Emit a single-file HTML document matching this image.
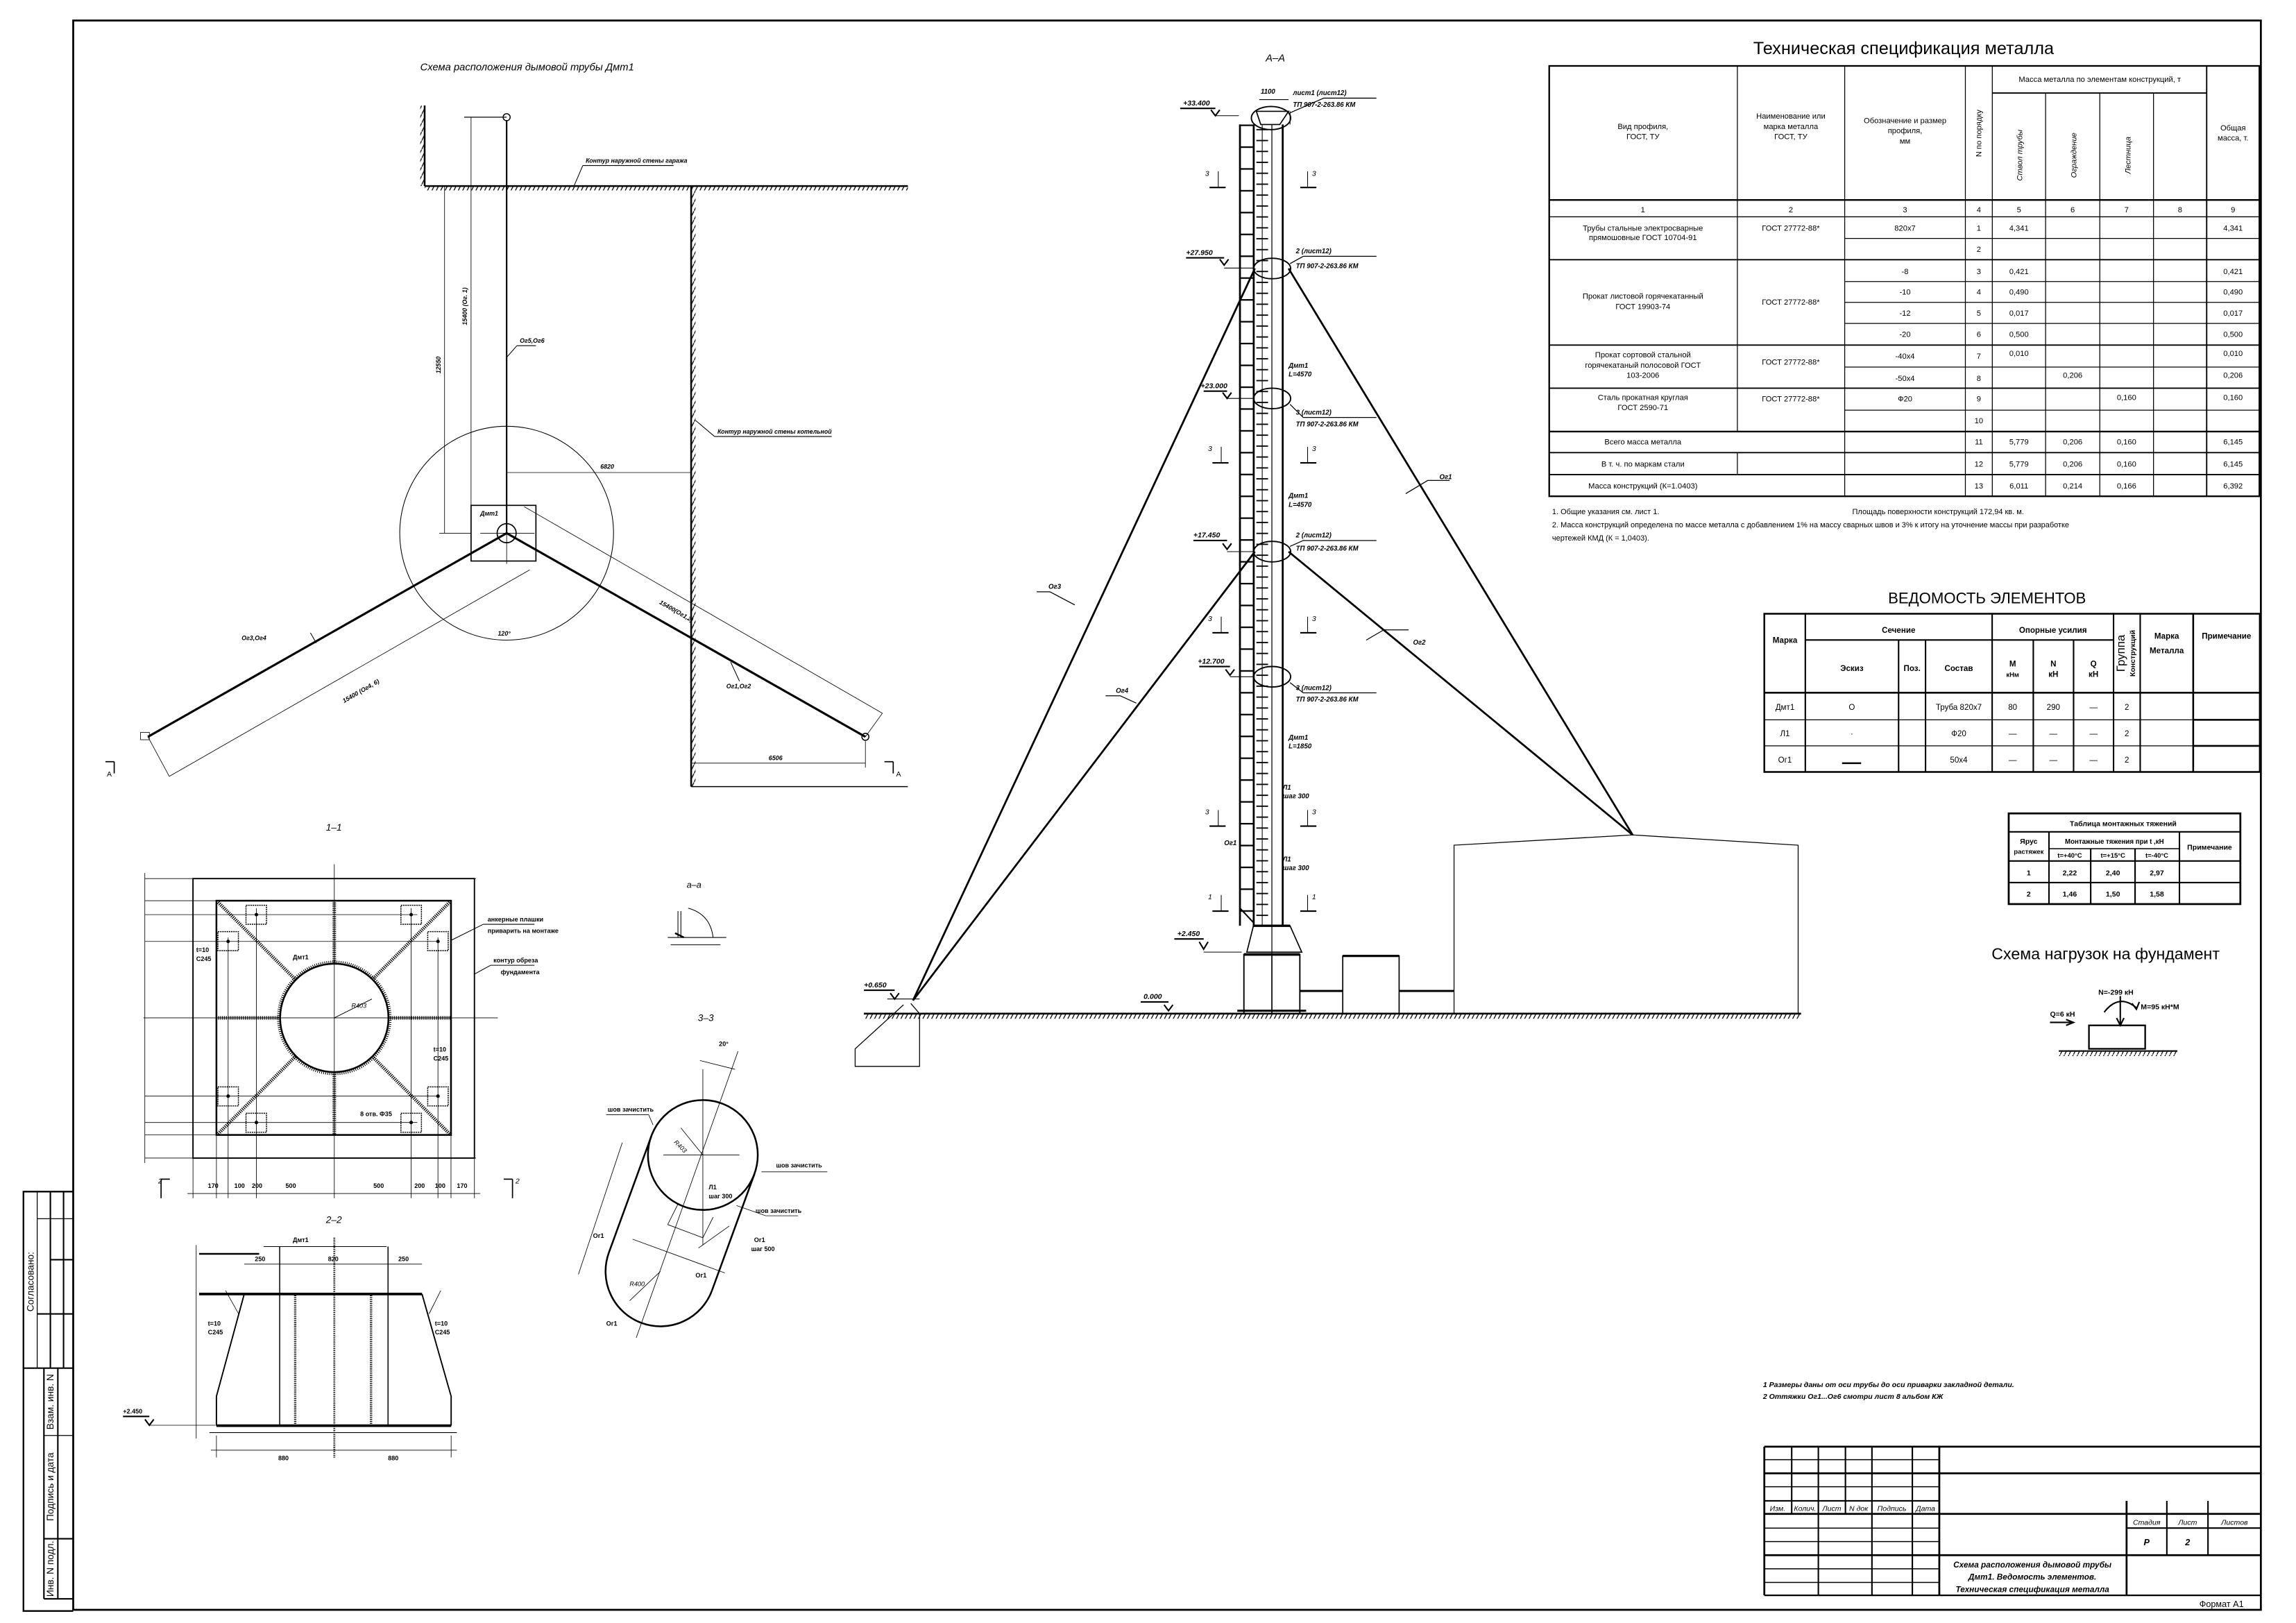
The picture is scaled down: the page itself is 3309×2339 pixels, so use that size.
<!DOCTYPE html>
<html><head><meta charset="utf-8"><style>
html,body{margin:0;padding:0;background:#fff}
svg{display:block}
text{font-family:"Liberation Sans","DejaVu Sans",sans-serif;fill:#000}
.i{font-style:italic}
.b{font-weight:bold}
</style></head><body>
<svg width="3309" height="2339" viewBox="0 0 1568 1108" preserveAspectRatio="none" xmlns="http://www.w3.org/2000/svg">
<defs>
<pattern id="hatch" width="3" height="6" patternUnits="userSpaceOnUse"><line x1="0" y1="6" x2="3" y2="0" stroke="#000" stroke-width="0.6"/></pattern>
<pattern id="rung" x="0" y="85" width="20" height="14.9" patternUnits="userSpaceOnUse"><line x1="0" y1="0.5" x2="20" y2="0.5" stroke="#000" stroke-width="1.1"/></pattern>
<pattern id="tick" x="0" y="88" width="20" height="7.45" patternUnits="userSpaceOnUse"><line x1="0" y1="0.5" x2="20" y2="0.5" stroke="#000" stroke-width="0.9"/></pattern>
</defs>
<rect width="1568" height="1108" fill="#fff"/>

<!-- FRAME -->
<g fill="none" stroke="#000">
<rect x="50" y="14" width="1494" height="1085" stroke-width="1.3"/>
<polyline points="50,813.5 16,813.5 16,1099.8 50,1099.8" stroke-width="1.1"/>
<line x1="16" y1="934" x2="50" y2="934" stroke-width="1"/>
<line x1="25.4" y1="813.5" x2="25.4" y2="934" stroke-width="0.6"/>
<line x1="34.4" y1="813.5" x2="34.4" y2="934" stroke-width="1"/>
<line x1="43.4" y1="813.5" x2="43.4" y2="934" stroke-width="1"/>
<line x1="25.4" y1="832" x2="50" y2="832" stroke-width="0.6"/>
<line x1="34.4" y1="860" x2="50" y2="860" stroke-width="1"/>
<line x1="25.4" y1="897" x2="50" y2="897" stroke-width="1"/>
<line x1="30" y1="934" x2="30" y2="1091.5" stroke-width="1"/>
<line x1="39.5" y1="934" x2="39.5" y2="1091.5" stroke-width="1"/>
<line x1="30" y1="980" x2="50" y2="980" stroke-width="0.6"/>
<line x1="30" y1="1050.5" x2="50" y2="1050.5" stroke-width="1"/>
<line x1="30" y1="1091.5" x2="50" y2="1091.5" stroke-width="1"/>
</g>
<text transform="translate(23,875) rotate(-90)" font-size="6.5" text-anchor="middle">Согласовано:</text>
<text transform="translate(36.5,957) rotate(-90)" font-size="6.5" text-anchor="middle">Взам. инв. N</text>
<text transform="translate(36.5,1015) rotate(-90)" font-size="6.5" text-anchor="middle">Подпись и дата</text>
<text transform="translate(36.5,1071) rotate(-90)" font-size="6.5" text-anchor="middle">Инв. N подл.</text>

<!-- TITLE BLOCK -->
<g fill="none" stroke="#000" stroke-width="1">
<line x1="1204.9" y1="987.6" x2="1544" y2="987.6" stroke-width="1.3"/>
<line x1="1204.9" y1="987.6" x2="1204.9" y2="1089.1" stroke-width="1.3"/>
<line x1="1204.9" y1="1089.1" x2="1544" y2="1089.1" stroke-width="1.1"/>
<line x1="1223.6" y1="987.6" x2="1223.6" y2="1033.5"/>
<line x1="1241.8" y1="987.6" x2="1241.8" y2="1089.1"/>
<line x1="1260.3" y1="987.6" x2="1260.3" y2="1033.5"/>
<line x1="1278.4" y1="987.6" x2="1278.4" y2="1089.1"/>
<line x1="1306" y1="987.6" x2="1306" y2="1089.1"/>
<line x1="1324.4" y1="987.6" x2="1324.4" y2="1089.1" stroke-width="1.3"/>
<line x1="1452.3" y1="1024.6" x2="1452.3" y2="1089.1" stroke-width="1.3"/>
<line x1="1479.8" y1="1024.6" x2="1479.8" y2="1061.7"/>
<line x1="1507.9" y1="1024.6" x2="1507.9" y2="1061.7"/>
<line x1="1204.9" y1="996.5" x2="1324.4" y2="996.5" stroke-width="0.7"/>
<line x1="1204.9" y1="1005.8" x2="1544" y2="1005.8" stroke-width="1.3"/>
<line x1="1204.9" y1="1015" x2="1324.4" y2="1015" stroke-width="0.7"/>
<line x1="1204.9" y1="1024.6" x2="1324.4" y2="1024.6"/>
<line x1="1204.9" y1="1033.5" x2="1544" y2="1033.5" stroke-width="1.3"/>
<line x1="1452.3" y1="1043.2" x2="1544" y2="1043.2"/>
<line x1="1204.9" y1="1043.2" x2="1324.4" y2="1043.2" stroke-width="0.7"/>
<line x1="1204.9" y1="1052.4" x2="1324.4" y2="1052.4" stroke-width="0.7"/>
<line x1="1204.9" y1="1061.7" x2="1544" y2="1061.7" stroke-width="1.3"/>
<line x1="1204.9" y1="1071" x2="1324.4" y2="1071" stroke-width="0.7"/>
<line x1="1204.9" y1="1080.3" x2="1324.4" y2="1080.3" stroke-width="0.7"/>
</g>
<g font-size="5" class="i" text-anchor="middle">
<text x="1214" y="1031.5" class="i">Изм.</text><text x="1232.7" y="1031.5" class="i">Колич.</text><text x="1251" y="1031.5" class="i">Лист</text><text x="1269.3" y="1031.5" class="i">N док</text><text x="1292" y="1031.5" class="i">Подпись</text><text x="1315" y="1031.5" class="i">Дата</text>
<text x="1466" y="1041" class="i">Стадия</text><text x="1494" y="1041" class="i">Лист</text><text x="1526" y="1041" class="i">Листов</text>
<text x="1466" y="1055" class="i b" font-size="6">Р</text><text x="1494" y="1055" class="i b" font-size="6">2</text>
<text x="1388" y="1070" class="i b" font-size="5.6">Схема расположения дымовой трубы</text>
<text x="1388" y="1078.5" class="i b" font-size="5.6">Дмт1. Ведомость элементов.</text>
<text x="1388" y="1087" class="i b" font-size="5.6">Техническая спецификация металла</text>
</g>
<text x="1502" y="1097" font-size="6">Формат А1</text>

<!-- SPEC TABLE -->
<text x="1300" y="37" font-size="12" text-anchor="middle">Техническая спецификация металла</text>
<g fill="none" stroke="#000" stroke-width="0.6">
<rect x="1058" y="45" width="485" height="293.8" stroke-width="1.1"/>
<line x1="1058" y1="136.5" x2="1543" y2="136.5" stroke-width="1.1"/>
<line x1="1058" y1="148" x2="1543" y2="148"/>
<line x1="1360.6" y1="63.5" x2="1507" y2="63.5" stroke-width="0.9"/>
<line x1="1186.5" y1="45" x2="1186.5" y2="294.6"/>
<line x1="1186.5" y1="309" x2="1186.5" y2="324"/>
<line x1="1259.8" y1="45" x2="1259.8" y2="338.8"/>
<line x1="1342.2" y1="45" x2="1342.2" y2="338.8"/>
<line x1="1360.6" y1="45" x2="1360.6" y2="338.8"/>
<line x1="1397" y1="63.5" x2="1397" y2="338.8"/>
<line x1="1434" y1="63.5" x2="1434" y2="338.8"/>
<line x1="1470.7" y1="63.5" x2="1470.7" y2="338.8"/>
<line x1="1507" y1="45" x2="1507" y2="338.8" stroke-width="0.9"/>
<line x1="1259.8" y1="162.8" x2="1543" y2="162.8"/>
<line x1="1058" y1="177.3" x2="1543" y2="177.3" stroke-width="0.9"/>
<line x1="1259.8" y1="192.2" x2="1543" y2="192.2"/>
<line x1="1259.8" y1="206.4" x2="1543" y2="206.4"/>
<line x1="1259.8" y1="220.8" x2="1543" y2="220.8"/>
<line x1="1058" y1="235.6" x2="1543" y2="235.6" stroke-width="0.9"/>
<line x1="1259.8" y1="250.6" x2="1543" y2="250.6"/>
<line x1="1058" y1="265" x2="1543" y2="265" stroke-width="0.9"/>
<line x1="1259.8" y1="280" x2="1543" y2="280"/>
<line x1="1058" y1="294.6" x2="1543" y2="294.6" stroke-width="1.1"/>
<line x1="1058" y1="309" x2="1543" y2="309" stroke-width="0.9"/>
<line x1="1058" y1="324" x2="1543" y2="324" stroke-width="0.9"/>
</g>
<g font-size="5.3" text-anchor="middle">
<text x="1122" y="88">Вид профиля,</text><text x="1122" y="95">ГОСТ, ТУ</text>
<text x="1223" y="81">Наименование или</text><text x="1223" y="88">марка металла</text><text x="1223" y="95">ГОСТ, ТУ</text>
<text x="1301" y="84">Обозначение и размер</text><text x="1301" y="91">профиля,</text><text x="1301" y="98">мм</text>
<text transform="translate(1353,91) rotate(-90)">N по порядку</text>
<text x="1434" y="56">Масса металла по элементам конструкций, т</text>
<text transform="translate(1381,106) rotate(-90)" class="i">Ствол трубы</text>
<text transform="translate(1418,106) rotate(-90)" class="i">Ограждение</text>
<text transform="translate(1455,106) rotate(-90)" class="i">Лестница</text>
<text x="1525" y="89">Общая</text><text x="1525" y="96">масса, т.</text>
<text x="1122" y="145">1</text><text x="1223" y="145">2</text><text x="1301" y="145">3</text><text x="1351.4" y="145">4</text><text x="1378.8" y="145">5</text><text x="1415.5" y="145">6</text><text x="1452.3" y="145">7</text><text x="1488.8" y="145">8</text><text x="1525" y="145">9</text>
<text x="1122" y="157.5">Трубы стальные электросварные</text><text x="1122" y="164">прямошовные  ГОСТ 10704-91</text>
<text x="1223" y="157.5">ГОСТ 27772-88*</text><text x="1301" y="157.5">820x7</text><text x="1351.4" y="157.5">1</text><text x="1378.8" y="157.5">4,341</text><text x="1525" y="157.5">4,341</text>
<text x="1351.4" y="172">2</text>
<text x="1122" y="204">Прокат листовой горячекатанный</text><text x="1122" y="211">ГОСТ 19903-74</text>
<text x="1223" y="208">ГОСТ 27772-88*</text>
<text x="1301" y="187">-8</text><text x="1301" y="201">-10</text><text x="1301" y="215.5">-12</text><text x="1301" y="230">-20</text>
<text x="1351.4" y="187">3</text><text x="1351.4" y="201">4</text><text x="1351.4" y="215.5">5</text><text x="1351.4" y="230">6</text>
<text x="1378.8" y="187">0,421</text><text x="1378.8" y="201">0,490</text><text x="1378.8" y="215.5">0,017</text><text x="1378.8" y="230">0,500</text>
<text x="1525" y="187">0,421</text><text x="1525" y="201">0,490</text><text x="1525" y="215.5">0,017</text><text x="1525" y="230">0,500</text>
<text x="1122" y="244">Прокат сортовой стальной</text><text x="1122" y="251">горячекатаный полосовой  ГОСТ</text><text x="1122" y="258">103-2006</text>
<text x="1223" y="249">ГОСТ 27772-88*</text>
<text x="1301" y="245">-40x4</text><text x="1301" y="260">-50x4</text>
<text x="1351.4" y="245">7</text><text x="1351.4" y="260">8</text>
<text x="1378.8" y="243">0,010</text><text x="1525" y="243">0,010</text>
<text x="1415.5" y="258">0,206</text><text x="1525" y="258">0,206</text>
<text x="1122" y="273">Сталь прокатная круглая</text><text x="1122" y="280">ГОСТ 2590-71</text>
<text x="1223" y="274">ГОСТ 27772-88*</text><text x="1301" y="274">Ф20</text><text x="1351.4" y="274">9</text>
<text x="1452.3" y="273">0,160</text><text x="1525" y="273">0,160</text>
<text x="1351.4" y="289">10</text>
<text x="1122" y="303.5">Всего масса металла</text><text x="1351.4" y="303.5">11</text><text x="1378.8" y="303.5">5,779</text><text x="1415.5" y="303.5">0,206</text><text x="1452.3" y="303.5">0,160</text><text x="1525" y="303.5">6,145</text>
<text x="1122" y="318.5">В т. ч. по маркам стали</text><text x="1351.4" y="318.5">12</text><text x="1378.8" y="318.5">5,779</text><text x="1415.5" y="318.5">0,206</text><text x="1452.3" y="318.5">0,160</text><text x="1525" y="318.5">6,145</text>
<text x="1122" y="333.5">Масса конструкций (К=1.0403)</text><text x="1351.4" y="333.5">13</text><text x="1378.8" y="333.5">6,011</text><text x="1415.5" y="333.5">0,214</text><text x="1452.3" y="333.5">0,166</text><text x="1525" y="333.5">6,392</text>
</g>
<g font-size="5.2">
<text x="1060" y="351">1. Общие указания см. лист 1.</text>
<text x="1265" y="351">Площадь поверхности конструкций 172,94 кв. м.</text>
<text x="1060" y="360">2. Масса конструкций определена по массе металла с добавлением 1% на массу сварных швов и 3% к итогу на уточнение массы при разработке</text>
<text x="1060" y="369">чертежей КМД (К = 1,0403).</text>
</g>

<!-- VEDOMOST -->
<text x="1357" y="412" font-size="10.5" text-anchor="middle">ВЕДОМОСТЬ  ЭЛЕМЕНТОВ</text>
<g fill="none" stroke="#000" stroke-width="1">
<rect x="1204.9" y="419" width="338.4" height="108" stroke-width="1.2"/>
<line x1="1204.9" y1="472.9" x2="1543.3" y2="472.9" stroke-width="1.2"/>
<line x1="1232.9" y1="436.9" x2="1443.4" y2="436.9"/>
<line x1="1204.9" y1="491.4" x2="1497.8" y2="491.4" stroke-width="0.6"/>
<line x1="1204.9" y1="509.2" x2="1497.8" y2="509.2" stroke-width="0.6"/>
<line x1="1497.8" y1="491.4" x2="1543.3" y2="491.4" stroke-width="1.2"/>
<line x1="1497.8" y1="509.2" x2="1543.3" y2="509.2" stroke-width="1.2"/>
<line x1="1232.9" y1="419" x2="1232.9" y2="527"/>
<line x1="1296.6" y1="436.9" x2="1296.6" y2="527"/>
<line x1="1315" y1="436.9" x2="1315" y2="527"/>
<line x1="1360.5" y1="419" x2="1360.5" y2="527"/>
<line x1="1388.6" y1="436.9" x2="1388.6" y2="527"/>
<line x1="1416.1" y1="436.9" x2="1416.1" y2="527"/>
<line x1="1443.4" y1="419" x2="1443.4" y2="527"/>
<line x1="1461.6" y1="419" x2="1461.6" y2="527"/>
<line x1="1497.8" y1="419" x2="1497.8" y2="527" stroke-width="1.2"/>
</g>
<g font-size="5.5" text-anchor="middle">
<text x="1219" y="439" class="b">Марка</text>
<text x="1296.6" y="432" class="b">Сечение</text>
<text x="1402" y="432" class="b">Опорные  усилия</text>
<text x="1264.7" y="458" class="b">Эскиз</text><text x="1305.8" y="458" class="b">Поз.</text><text x="1337.7" y="458" class="b">Состав</text>
<text x="1374.5" y="455" class="b">М</text><text x="1374.5" y="462" class="b" font-size="4.5">кНм</text>
<text x="1402.3" y="455" class="b">N</text><text x="1402.3" y="462" class="b">кН</text>
<text x="1429.7" y="455" class="b">Q</text><text x="1429.7" y="462" class="b">кН</text>
<text transform="translate(1451,446) rotate(-90)" font-size="8">Группа</text>
<text transform="translate(1458,446) rotate(-90)" font-size="5" class="b">Конструкций</text>
<text x="1479.7" y="436" class="b">Марка</text><text x="1479.7" y="446" class="b">Металла</text>
<text x="1520.5" y="436" class="b">Примечание</text>
<text x="1219" y="484.5">Дмт1</text><text x="1264.7" y="484.5">О</text><text x="1337.7" y="484.5">Труба 820x7</text><text x="1374.5" y="484.5">80</text><text x="1402.3" y="484.5">290</text><text x="1429.7" y="484.5">—</text><text x="1452.5" y="484.5">2</text>
<text x="1219" y="502.5">Л1</text><text x="1264.7" y="502.5">·</text><text x="1337.7" y="502.5">Ф20</text><text x="1374.5" y="502.5">—</text><text x="1402.3" y="502.5">—</text><text x="1429.7" y="502.5">—</text><text x="1452.5" y="502.5">2</text>
<text x="1219" y="520.5">Ог1</text><text x="1337.7" y="520.5">50x4</text><text x="1374.5" y="520.5">—</text><text x="1402.3" y="520.5">—</text><text x="1429.7" y="520.5">—</text><text x="1452.5" y="520.5">2</text>
</g>
<line x1="1258" y1="521" x2="1271" y2="521" stroke="#000" stroke-width="1.2"/>

<!-- MONTAGE TABLE -->
<g fill="none" stroke="#000" stroke-width="1">
<rect x="1371.8" y="555.3" width="158.2" height="61.9" stroke-width="1.3"/>
<line x1="1371.8" y1="567.9" x2="1530" y2="567.9"/>
<line x1="1399.3" y1="579.4" x2="1488.4" y2="579.4" stroke-width="0.7"/>
<line x1="1371.8" y1="587.8" x2="1530" y2="587.8"/>
<line x1="1371.8" y1="602.5" x2="1530" y2="602.5"/>
<line x1="1399.3" y1="567.9" x2="1399.3" y2="617.2"/>
<line x1="1427.8" y1="579.4" x2="1427.8" y2="617.2"/>
<line x1="1458.1" y1="579.4" x2="1458.1" y2="617.2"/>
<line x1="1488.4" y1="567.9" x2="1488.4" y2="617.2"/>
</g>
<g font-size="5" text-anchor="middle" class="b">
<text x="1450" y="564">Таблица монтажных тяжений</text>
<text x="1385.5" y="576">Ярус</text><text x="1385.5" y="583" font-size="4.5">растяжек</text>
<text x="1444" y="576" font-size="4.6">Монтажные тяжения при t ,кН</text>
<text x="1509" y="580">Примечание</text>
<text x="1413.5" y="585.5" font-size="4.5">t=+40°C</text><text x="1443" y="585.5" font-size="4.5">t=+15°C</text><text x="1473" y="585.5" font-size="4.5">t=-40°C</text>
<text x="1385.5" y="597.5">1</text><text x="1413.5" y="597.5">2,22</text><text x="1443" y="597.5">2,40</text><text x="1473" y="597.5">2,97</text>
<text x="1385.5" y="612">2</text><text x="1413.5" y="612">1,46</text><text x="1443" y="612">1,50</text><text x="1473" y="612">1,58</text>
</g>

<!-- LOAD SCHEME -->
<text x="1438" y="655" font-size="11" text-anchor="middle">Схема нагрузок на фундамент</text>
<g fill="none" stroke="#000" stroke-width="1">
<rect x="1426.6" y="700" width="38.4" height="16" stroke-width="1.1"/>
<line x1="1406" y1="717.5" x2="1487" y2="717.5"/>
<rect x="1406" y="718" width="81" height="3" fill="url(#hatch)" stroke="none"/>
<line x1="1448" y1="680" x2="1448" y2="699"/>
<polyline points="1445.5,695 1448,700 1450.5,695"/>
<line x1="1400" y1="698" x2="1415" y2="698"/>
<polyline points="1411,696 1416,698 1411,700"/>
<path d="M1437,691 Q1447,678 1459,688"/>
<polyline points="1456,685 1459,689 1461,684"/>
</g>
<g font-size="5" class="b">
<text x="1433" y="679">N=-299 кН</text>
<text x="1462" y="689">M=95 кН*М</text>
<text x="1400" y="694">Q=6 кН</text>
</g>

<!-- NOTES -->
<g font-size="5" class="i b">
<text x="1204" y="947">1 Размеры даны от оси трубы до оси приварки закладной детали.</text>
<text x="1204" y="955">2 Оттяжки Ог1...Ог6 смотри лист 8 альбом КЖ</text>
</g>

<!-- ELEVATION A-A -->
<text x="871" y="42" font-size="7" class="i" text-anchor="middle">А–А</text>
<line x1="590" y1="692" x2="1230" y2="692" stroke="#000" stroke-width="1.2"/>
<rect x="590" y="692.5" width="640" height="3" fill="url(#hatch)"/>
<polyline points="993,692 993,577 1115,570 1228,577 1228,692" fill="none" stroke="#000" stroke-width="0.6"/>
<g fill="none" stroke="#000">
<rect x="849.5" y="651.6" width="38.2" height="40.4" stroke-width="0.9"/>
<line x1="868.6" y1="651.6" x2="868.6" y2="692" stroke-width="0.8"/>
<line x1="849.5" y1="651.6" x2="887.7" y2="651.6" stroke-width="1.8"/>
<polygon points="856,632 881,632 889,650 851.5,650" stroke-width="0.8"/>
<line x1="856" y1="632" x2="881" y2="632" stroke-width="1.6"/>
<line x1="845" y1="690" x2="892" y2="690" stroke-width="1.4"/>
<rect x="917" y="652.6" width="38.5" height="39.4" stroke-width="0.8"/>
<line x1="917" y1="652.6" x2="955.5" y2="652.6" stroke-width="1.5"/>
<line x1="887.7" y1="676.5" x2="917" y2="676.5" stroke-width="1.4"/>
<line x1="955.5" y1="676.5" x2="993" y2="676.5" stroke-width="1.4"/>
<polyline points="622,685 628,692 628,728 584,728 584,716 617,686" stroke-width="0.6"/>
</g>
<rect x="846.8" y="85" width="9.4" height="547" fill="url(#rung)"/>
<rect x="858" y="88" width="8" height="544" fill="url(#tick)"/>
<g stroke="#000" fill="none">
<line x1="846.8" y1="85" x2="846.8" y2="632" stroke-width="1.3"/>
<line x1="856.2" y1="85" x2="856.2" y2="632" stroke-width="1.3"/>
<line x1="868.6" y1="85" x2="868.6" y2="651" stroke-width="0.6"/>
<line x1="876" y1="85" x2="876" y2="632" stroke-width="1.3"/>
<line x1="862" y1="85" x2="862" y2="632" stroke-width="0.5"/>
<line x1="846.8" y1="620" x2="856.2" y2="630" stroke-width="1"/>
<polygon points="858,76 880,76 874,85 861,85" stroke-width="0.8"/>
<ellipse cx="868" cy="80.6" rx="13.4" ry="7.9" stroke-width="0.9"/>
<line x1="860" y1="68" x2="880" y2="68" stroke-width="0.5"/>
<line x1="881" y1="76" x2="881" y2="85" stroke-width="0.5"/>
<ellipse cx="868.8" cy="183.3" rx="12.6" ry="7" stroke-width="0.9"/>
<ellipse cx="868.8" cy="272" rx="12.6" ry="7" stroke-width="0.9"/>
<ellipse cx="868.8" cy="376.6" rx="12.6" ry="7" stroke-width="0.9"/>
<ellipse cx="868.8" cy="462" rx="12.6" ry="7" stroke-width="0.9"/>
<line x1="623.5" y1="683" x2="857" y2="183.3" stroke-width="1.3"/>
<line x1="623.5" y1="683" x2="857" y2="376.6" stroke-width="1.3"/>
<line x1="880" y1="183.3" x2="1115" y2="570" stroke-width="1.3"/>
<line x1="880" y1="376.6" x2="1115" y2="570" stroke-width="1.3"/>
<polyline points="881,77 904,67 940,67" stroke-width="0.6"/>
<polyline points="881,180 890,175 940,175" stroke-width="0.6"/>
<polyline points="881,276 890,285 940,285" stroke-width="0.6"/>
<polyline points="881,373 890,369 940,369" stroke-width="0.6"/>
<polyline points="881,466 890,473 940,473" stroke-width="0.6"/>
<polyline points="960,337 975,328 990,328" stroke-width="0.6"/>
<polyline points="933,437 945,430 962,430" stroke-width="0.6"/>
<polyline points="734,413 717,404 708,404" stroke-width="0.6"/>
<polyline points="776,480 765,475 755,475" stroke-width="0.6"/>
</g>
<g font-size="4.6" class="i b">
<text x="883" y="65">лист1 (лист12)</text><text x="883" y="73">ТП 907-2-263.86 КМ</text>
<text x="885" y="173">2 (лист12)</text><text x="885" y="183">ТП 907-2-263.86 КМ</text>
<text x="885" y="283">3 (лист12)</text><text x="885" y="291">ТП 907-2-263.86 КМ</text>
<text x="885" y="367">2 (лист12)</text><text x="885" y="376">ТП 907-2-263.86 КМ</text>
<text x="885" y="471">3 (лист12)</text><text x="885" y="479">ТП 907-2-263.86 КМ</text>
<text x="880" y="251">Дмт1</text><text x="880" y="257">L=4570</text>
<text x="880" y="340">Дмт1</text><text x="880" y="346">L=4570</text>
<text x="880" y="505">Дмт1</text><text x="880" y="511">L=1850</text>
<text x="876" y="539">Л1</text><text x="876" y="545">шаг 300</text>
<text x="876" y="588">Л1</text><text x="876" y="594">шаг 300</text>
<text x="836" y="577">Ог1</text>
<text x="983" y="327">Ог1</text>
<text x="965" y="440">Ог2</text>
<text x="716" y="402">Ог3</text>
<text x="762" y="473">Ог4</text>
<text x="861" y="64">1100</text>
</g>
<g stroke="#000" fill="none" stroke-width="1">
<line x1="806" y1="74" x2="830" y2="74"/><polyline points="827,75 830,79 833,75"/><line x1="830" y1="79" x2="846" y2="79" stroke-width="0.5"/>
<line x1="810" y1="176" x2="836" y2="176"/><polyline points="833,177 836,181 839,177"/><line x1="836" y1="183" x2="856" y2="183" stroke-width="0.5"/>
<line x1="822" y1="267" x2="838" y2="267"/><polyline points="835,268 838,272 841,268"/><line x1="838" y1="272" x2="856" y2="272" stroke-width="0.5"/>
<line x1="815" y1="369" x2="838" y2="369"/><polyline points="835,371 838,375 841,371"/><line x1="838" y1="376.6" x2="856" y2="376.6" stroke-width="0.5"/>
<line x1="819" y1="455" x2="840" y2="455"/><polyline points="837,457 840,461 843,457"/><line x1="840" y1="462" x2="856" y2="462" stroke-width="0.5"/>
<line x1="802" y1="641" x2="822" y2="641"/><polyline points="819,643 822,648 825,643"/><line x1="822" y1="650" x2="848" y2="650" stroke-width="0.5"/>
<line x1="779" y1="684" x2="798" y2="684"/><polyline points="795,686 798,690 801,686"/>
<line x1="590" y1="676" x2="611" y2="676"/><polyline points="608,678 611,682 614,678"/><line x1="606" y1="682" x2="628" y2="682" stroke-width="0.5"/>
</g>
<g font-size="5" class="i b">
<text x="808" y="72">+33.400</text><text x="810" y="174">+27.950</text><text x="820" y="265">+23.000</text>
<text x="815" y="367">+17.450</text><text x="818" y="453">+12.700</text><text x="804" y="639">+2.450</text>
<text x="781" y="682">0.000</text><text x="590" y="674">+0.650</text>
</g>
<g stroke="#000" fill="none" stroke-width="1">
<line x1="826" y1="128" x2="837" y2="128"/><line x1="832" y1="117" x2="832" y2="128" stroke-width="0.5"/>
<line x1="888" y1="128" x2="899" y2="128"/><line x1="893" y1="117" x2="893" y2="128" stroke-width="0.5"/>
<line x1="828" y1="316" x2="839" y2="316"/><line x1="834" y1="305" x2="834" y2="316" stroke-width="0.5"/>
<line x1="888" y1="316" x2="899" y2="316"/><line x1="893" y1="305" x2="893" y2="316" stroke-width="0.5"/>
<line x1="828" y1="432" x2="839" y2="432"/><line x1="834" y1="421" x2="834" y2="432" stroke-width="0.5"/>
<line x1="888" y1="432" x2="899" y2="432"/><line x1="893" y1="421" x2="893" y2="432" stroke-width="0.5"/>
<line x1="826" y1="564" x2="837" y2="564"/><line x1="832" y1="553" x2="832" y2="564" stroke-width="0.5"/>
<line x1="888" y1="564" x2="899" y2="564"/><line x1="893" y1="553" x2="893" y2="564" stroke-width="0.5"/>
<line x1="828" y1="622" x2="839" y2="622"/><line x1="834" y1="611" x2="834" y2="622" stroke-width="0.5"/>
<line x1="888" y1="622" x2="899" y2="622"/><line x1="893" y1="611" x2="893" y2="622" stroke-width="0.5"/>
</g>
<g font-size="5" class="i"><text x="823" y="120">3</text><text x="896" y="120">3</text><text x="825" y="308">3</text><text x="896" y="308">3</text><text x="825" y="424">3</text><text x="896" y="424">3</text><text x="823" y="556">3</text><text x="896" y="556">3</text><text x="825" y="614">1</text><text x="896" y="614">1</text></g>

<!-- PLAN -->
<text x="360" y="48" font-size="7" class="i" text-anchor="middle">Схема расположения дымовой трубы Дмт1</text>
<g stroke="#000" fill="none">
<line x1="290" y1="72" x2="290" y2="127" stroke-width="1.2"/>
<line x1="290" y1="127" x2="620" y2="127" stroke-width="1.2"/>
<line x1="472" y1="127" x2="472" y2="537" stroke-width="1.2"/>
<line x1="472" y1="537" x2="620" y2="537" stroke-width="0.7"/>
<line x1="346" y1="82" x2="346" y2="364" stroke-width="1"/>
<circle cx="346" cy="80" r="2.4" stroke-width="0.7"/>
<circle cx="591" cy="503" r="2.4" stroke-width="0.7"/>
<circle cx="346" cy="364" r="73" stroke-width="0.5"/>
<circle cx="346" cy="364" r="6.5" stroke-width="0.8"/>
<rect x="321.7" y="345" width="44.3" height="38" stroke-width="0.8"/>
<line x1="328" y1="364" x2="365" y2="364" stroke-width="0.4"/>
<line x1="346" y1="350" x2="346" y2="385" stroke-width="0.4"/>
<line x1="346" y1="364" x2="101" y2="503" stroke-width="1.5"/>
<line x1="346" y1="364" x2="591" y2="503" stroke-width="1.5"/>
<line x1="115.6" y1="530" x2="361.8" y2="389" stroke-width="0.4"/>
<line x1="101" y1="503" x2="115.6" y2="530" stroke-width="0.4"/>
<line x1="358" y1="345.9" x2="602.6" y2="486.9" stroke-width="0.4"/>
<line x1="591" y1="503" x2="602.6" y2="486.9" stroke-width="0.4"/>
<line x1="321.7" y1="80" x2="321.7" y2="364" stroke-width="0.4"/>
<line x1="317" y1="80" x2="346" y2="80" stroke-width="0.6"/>
<line x1="303.6" y1="127" x2="303.6" y2="364" stroke-width="0.4"/>
<line x1="300" y1="364" x2="322" y2="364" stroke-width="0.4"/>
<line x1="346" y1="322.6" x2="472" y2="322.6" stroke-width="0.4"/>
<line x1="472" y1="521" x2="591" y2="521" stroke-width="0.4"/>
<line x1="591" y1="506" x2="591" y2="524" stroke-width="0.4"/>
<rect x="96" y="500" width="6" height="5" stroke-width="0.4"/>
<line x1="398" y1="113" x2="392" y2="127" stroke-width="0.5"/>
<line x1="398" y1="113" x2="460" y2="113" stroke-width="0.5"/>
<line x1="475" y1="287" x2="488" y2="298" stroke-width="0.5"/>
<line x1="488" y1="298" x2="568" y2="298" stroke-width="0.5"/>
<line x1="346" y1="244" x2="353" y2="236" stroke-width="0.5"/>
<line x1="353" y1="236" x2="366" y2="236" stroke-width="0.5"/>
<line x1="505" y1="465" x2="499" y2="452" stroke-width="0.5"/>
<line x1="216" y1="439" x2="212" y2="432" stroke-width="0.5"/>
<line x1="78" y1="520" x2="78" y2="528" stroke-width="0.8"/><line x1="72" y1="520" x2="78" y2="520" stroke-width="0.8"/>
<line x1="610" y1="520" x2="610" y2="528" stroke-width="0.8"/><line x1="604" y1="520" x2="610" y2="520" stroke-width="0.8"/>
</g>
<rect x="287" y="72" width="3" height="55" fill="url(#hatch)"/>
<rect x="290" y="127" width="330" height="3" fill="url(#hatch)"/>
<rect x="472" y="130" width="3" height="407" fill="url(#hatch)"/>
<g font-size="4.2" class="i b">
<text x="400" y="111">Контур наружной стены гаража</text>
<text x="490" y="296">Контур наружной стены котельной</text>
<text x="355" y="234">Ог5,Ог6</text>
<text x="165" y="437">Ог3,Ог4</text>
<text x="496" y="470">Ог1,Ог2</text>
<text x="340" y="434">120°</text>
<text x="410" y="320">6820</text>
<text x="525" y="519">6506</text>
<text x="328" y="352">Дмт1</text>
<text transform="translate(301,255) rotate(-90)">12550</text>
<text transform="translate(319,222) rotate(-90)">15400 (Ог. 1)</text>
<text transform="translate(235,480) rotate(-30)">15400 (Ог4, 6)</text>
<text transform="translate(450,412) rotate(30)">15400(Ог1,2)</text>
</g>
<text x="73" y="530" font-size="5">А</text><text x="612" y="530" font-size="5">А</text>

<!-- 1-1 -->
<text x="228" y="567" font-size="6.5" class="i" text-anchor="middle">1–1</text>
<g stroke="#000" fill="none">
<rect x="131.8" y="599.8" width="192.2" height="190.8" stroke-width="0.9"/>
<rect x="147.8" y="614.9" width="160.2" height="159.9" stroke-width="1.2"/>
<circle cx="228.3" cy="694.9" r="37" stroke-width="1.2"/>
<line x1="98" y1="694.9" x2="340" y2="694.9" stroke-width="0.4"/>
<line x1="228.3" y1="590" x2="228.3" y2="818" stroke-width="0.4"/>
<line x1="228.3" y1="614.9" x2="228.3" y2="658" stroke-width="2.4" stroke-dasharray="0.6 0.7"/>
<line x1="228.3" y1="732" x2="228.3" y2="774.8" stroke-width="2.4" stroke-dasharray="0.6 0.7"/>
<line x1="147.8" y1="694.9" x2="191.3" y2="694.9" stroke-width="2.4" stroke-dasharray="0.6 0.7"/>
<line x1="265.3" y1="694.9" x2="308" y2="694.9" stroke-width="2.4" stroke-dasharray="0.6 0.7"/>
<line x1="149" y1="616" x2="202" y2="669" stroke-width="2.4" stroke-dasharray="0.6 0.7"/>
<line x1="307" y1="616" x2="254" y2="669" stroke-width="2.4" stroke-dasharray="0.6 0.7"/>
<line x1="149" y1="774" x2="202" y2="721" stroke-width="2.4" stroke-dasharray="0.6 0.7"/>
<line x1="307" y1="774" x2="254" y2="721" stroke-width="2.4" stroke-dasharray="0.6 0.7"/>
<circle cx="228.3" cy="694.9" r="38.3" stroke-width="1.6" stroke-dasharray="0.5 0.9"/>
<line x1="228.3" y1="694.9" x2="254" y2="682" stroke-width="0.5"/>
<g stroke-width="0.4">
<line x1="98.9" y1="599.8" x2="325" y2="599.8"/><line x1="98.9" y1="614.9" x2="308" y2="614.9"/>
<line x1="98.9" y1="624.4" x2="285" y2="624.4"/><line x1="98.9" y1="642.7" x2="300" y2="642.7"/>
<line x1="98.9" y1="748.3" x2="300" y2="748.3"/><line x1="98.9" y1="766.3" x2="285" y2="766.3"/>
<line x1="98.9" y1="774.8" x2="308" y2="774.8"/><line x1="98.9" y1="790.6" x2="325" y2="790.6"/>
<line x1="98.9" y1="596" x2="98.9" y2="794"/>
<line x1="131.8" y1="790" x2="131.8" y2="818"/><line x1="147.8" y1="774" x2="147.8" y2="818"/>
<line x1="155.8" y1="640" x2="155.8" y2="818"/><line x1="175.1" y1="620" x2="175.1" y2="818"/>
<line x1="280.8" y1="620" x2="280.8" y2="818"/><line x1="299.1" y1="640" x2="299.1" y2="818"/>
<line x1="308" y1="774" x2="308" y2="818"/><line x1="324" y1="790" x2="324" y2="818"/>
<line x1="128" y1="814.8" x2="328" y2="814.8"/>
</g>
<g stroke-width="0.7">
<rect x="168" y="618" width="14" height="13" stroke-dasharray="1 0.5"/>
<rect x="273.8" y="618" width="14" height="13" stroke-dasharray="1 0.5"/>
<rect x="148.8" y="636" width="14" height="13" stroke-dasharray="1 0.5"/>
<rect x="292.1" y="636" width="14" height="13" stroke-dasharray="1 0.5"/>
<rect x="148.8" y="742" width="14" height="13" stroke-dasharray="1 0.5"/>
<rect x="292.1" y="742" width="14" height="13" stroke-dasharray="1 0.5"/>
<rect x="168" y="760" width="14" height="13" stroke-dasharray="1 0.5"/>
<rect x="273.8" y="760" width="14" height="13" stroke-dasharray="1 0.5"/>
</g>
<line x1="308" y1="642" x2="330" y2="631" stroke-width="0.5"/><line x1="330" y1="631" x2="365" y2="631" stroke-width="0.5"/>
<line x1="324" y1="665" x2="335" y2="659" stroke-width="0.5"/><line x1="335" y1="659" x2="365" y2="659" stroke-width="0.5"/>
<line x1="110" y1="805" x2="110" y2="818" stroke-width="0.8"/><line x1="110" y1="805" x2="116" y2="805" stroke-width="0.8"/>
<line x1="350" y1="805" x2="350" y2="818" stroke-width="0.8"/><line x1="344" y1="805" x2="350" y2="805" stroke-width="0.8"/>
</g>
<g fill="#000"><circle cx="175.1" cy="624.4" r="1.2"/><circle cx="280.8" cy="624.4" r="1.2"/><circle cx="155.8" cy="642.7" r="1.2"/><circle cx="299.1" cy="642.7" r="1.2"/><circle cx="155.8" cy="748.3" r="1.2"/><circle cx="299.1" cy="748.3" r="1.2"/><circle cx="175.1" cy="766.3" r="1.2"/><circle cx="280.8" cy="766.3" r="1.2"/></g>
<g font-size="4.3" class="b">
<text x="333" y="629">анкерные плашки</text><text x="333" y="637">приварить на монтаже</text>
<text x="337" y="657">контур обреза</text><text x="342" y="665">фундамента</text>
<text x="246" y="762">8 отв. Ф35</text>
<text x="200" y="655">Дмт1</text>
<text x="240" y="688" class="i" font-weight="normal">R403</text>
<text x="134" y="650">t=10</text><text x="134" y="656">С245</text>
<text x="296" y="718">t=10</text><text x="296" y="724">С245</text>
<text x="142" y="811">170</text><text x="160" y="811">100</text><text x="172" y="811">200</text><text x="195" y="811">500</text><text x="255" y="811">500</text><text x="283" y="811">200</text><text x="297" y="811">100</text><text x="312" y="811">170</text>
</g>
<g font-size="5" class="i"><text x="108" y="808">2</text><text x="352" y="808">2</text></g>

<!-- a-a -->
<text x="474" y="606" font-size="6" class="i" text-anchor="middle">а–а</text>
<g stroke="#000" fill="none" stroke-width="0.5">
<line x1="456" y1="640" x2="496" y2="640"/><line x1="458" y1="645" x2="492" y2="645"/>
<line x1="463" y1="622" x2="463" y2="640"/><line x1="465" y1="622" x2="465" y2="640"/>
<path d="M470,620 Q485,624 487,640"/>
<line x1="461" y1="637" x2="467" y2="640" stroke-width="1.2"/>
</g>

<!-- 3-3 -->
<text x="482" y="697" font-size="6.5" class="i" text-anchor="middle">3–3</text>
<g stroke="#000" fill="none">
<circle cx="480" cy="788.5" r="37.5" stroke-width="1.2"/>
<line x1="444.8" y1="775.7" x2="415.8" y2="855.2" stroke-width="1.2"/>
<line x1="515.3" y1="801.3" x2="486.3" y2="880.8" stroke-width="1.2"/>
<path d="M415.8,855.2 A37.5,37.5 0 0 0 486.3,880.8" stroke-width="1.2"/>
<line x1="504" y1="717.7" x2="434.5" y2="913.3" stroke-width="0.4"/>
<line x1="480" y1="730" x2="480" y2="850" stroke-width="0.4"/>
<line x1="453" y1="788.5" x2="505" y2="788.5" stroke-width="0.4"/>
<line x1="480" y1="788.5" x2="465" y2="770" stroke-width="0.4"/>
<line x1="432" y1="846" x2="495" y2="869" stroke-width="0.4"/>
<line x1="463" y1="822" x2="456" y2="836" stroke-width="0.4"/>
<line x1="456" y1="836" x2="480" y2="845" stroke-width="0.4"/>
<line x1="487" y1="831" x2="480" y2="845" stroke-width="0.4"/>
<line x1="425" y1="780" x2="395" y2="870" stroke-width="0.4"/>
<line x1="451" y1="868" x2="430" y2="888" stroke-width="0.4"/>
<path d="M478,724 L502,730" stroke-width="0.4"/>
<line x1="414" y1="761" x2="443" y2="761" stroke-width="0.4"/><line x1="443" y1="761" x2="446" y2="768" stroke-width="0.4"/>
<line x1="520" y1="800" x2="565" y2="800" stroke-width="0.4"/>
<line x1="503" y1="823" x2="523" y2="830" stroke-width="0.4"/><line x1="523" y1="830" x2="545" y2="830" stroke-width="0.4"/>
<line x1="477" y1="852" x2="498" y2="837" stroke-width="0.4"/>
</g>
<g font-size="4.3" class="b">
<text x="415" y="759">шов зачистить</text>
<text x="530" y="797">шов зачистить</text>
<text x="516" y="828">шов зачистить</text>
<text x="405" y="845">Ог1</text><text x="475" y="872">Ог1</text><text x="414" y="905">Ог1</text>
<text x="515" y="848">Ог1</text><text x="513" y="854">шаг 500</text>
<text x="484" y="812">Л1</text><text x="484" y="818">шаг 300</text>
<text x="491" y="714">20°</text>
<text x="460" y="780" class="i" font-weight="normal" transform="rotate(45 460 780)">R403</text>
<text x="430" y="878" class="i" font-weight="normal">R400</text>
</g>

<!-- 2-2 -->
<text x="228" y="835" font-size="6.5" class="i" text-anchor="middle">2–2</text>
<g stroke="#000" fill="none">
<line x1="136" y1="856" x2="177" y2="856" stroke-width="1.2"/>
<line x1="180" y1="851" x2="264" y2="851" stroke-width="0.5"/>
<line x1="136" y1="883.4" x2="288.2" y2="883.4" stroke-width="1.8"/>
<polyline points="166.8,883.4 147.8,953.3 147.8,973.3" stroke-width="0.9"/>
<polyline points="288.2,883.4 308.1,953.3 308.1,973.3" stroke-width="0.9"/>
<line x1="147.8" y1="973.3" x2="308.1" y2="973.3" stroke-width="1.8"/>
<line x1="143" y1="978" x2="312" y2="978" stroke-width="0.5"/>
<line x1="191" y1="851" x2="191" y2="973" stroke-width="0.7"/>
<line x1="201.6" y1="883" x2="201.6" y2="973" stroke-width="1.6" stroke-dasharray="0.6 0.7"/>
<line x1="253.4" y1="883" x2="253.4" y2="973" stroke-width="1.6" stroke-dasharray="0.6 0.7"/>
<line x1="265" y1="851" x2="265" y2="973" stroke-width="0.7"/>
<line x1="228.3" y1="845" x2="228.3" y2="995" stroke-width="1.3" stroke-dasharray="0.6 0.7"/>
<line x1="147.8" y1="980" x2="147.8" y2="995" stroke-width="0.4"/>
<line x1="308.1" y1="980" x2="308.1" y2="995" stroke-width="0.4"/>
<line x1="144" y1="990" x2="312" y2="990" stroke-width="0.4"/>
<line x1="166.8" y1="863" x2="288.2" y2="863" stroke-width="0.4"/>
<line x1="134" y1="850" x2="134" y2="982" stroke-width="0.4"/>
<line x1="84" y1="967" x2="102" y2="967" stroke-width="1"/>
<polyline points="99,969 102,973 105,969" stroke-width="1"/>
<line x1="102" y1="973" x2="147" y2="973" stroke-width="0.4"/>
<line x1="154" y1="881" x2="163" y2="897" stroke-width="0.4"/>
<line x1="301" y1="881" x2="293" y2="897" stroke-width="0.4"/>
</g>
<g font-size="4.3" class="b">
<text x="84" y="965">+2.450</text>
<text x="174" y="861">250</text><text x="224" y="861">820</text><text x="272" y="861">250</text>
<text x="190" y="997">880</text><text x="265" y="997">880</text>
<text x="142" y="905">t=10</text><text x="142" y="911">С245</text>
<text x="297" y="905">t=10</text><text x="297" y="911">С245</text>
<text x="200" y="848">Дмт1</text>
</g>
</svg>
</body></html>
